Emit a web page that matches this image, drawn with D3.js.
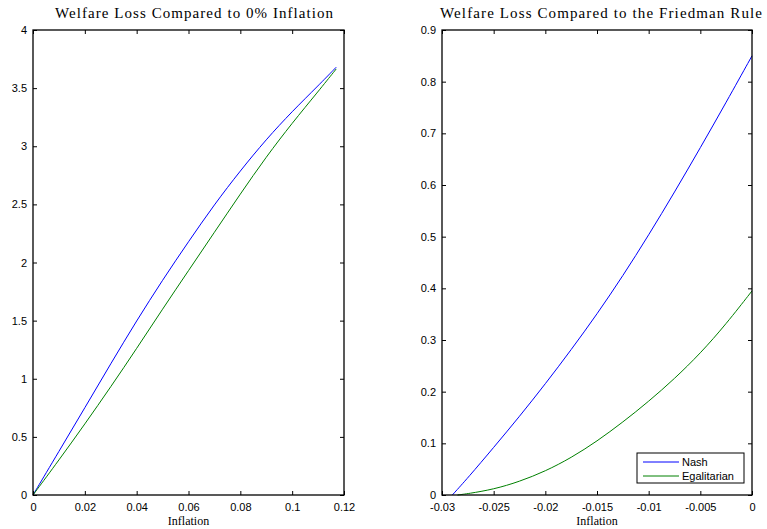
<!DOCTYPE html>
<html>
<head>
<meta charset="utf-8">
<script src="https://cdn.jsdelivr.net/npm/d3@7"></script>
<style>
body { margin: 0; background: #fff; }
svg { display: block; }
.tick text { font-family: "Liberation Sans", Arial, sans-serif; font-size: 11px; fill: #000; }
.title, .xlabel { font-family: "Liberation Serif", "Times New Roman", serif; fill: #000; }
</style>
</head>
<body>
<script>
// left panel: loss vs 0% inflation
var inflLeft = [0, 0.01, 0.02, 0.03, 0.04, 0.05, 0.06, 0.07, 0.08, 0.09, 0.1, 0.11, 0.117];
var nashLeft = [0, 0.375, 0.75, 1.13, 1.5, 1.85, 2.18, 2.5, 2.79, 3.06, 3.3, 3.52, 3.68];
var egalLeft = [0, 0.3, 0.61, 0.93, 1.26, 1.6, 1.93, 2.26, 2.59, 2.91, 3.2, 3.47, 3.665];

// right panel: loss vs Friedman rule
var inflNash = [-0.029, -0.0275, -0.025, -0.0225, -0.02, -0.0175, -0.015, -0.0125, -0.01, -0.0075, -0.005, -0.0025, 0];
var nashRight = [0, 0.033, 0.092, 0.152, 0.215, 0.281, 0.35, 0.424, 0.503, 0.586, 0.672, 0.76, 0.85];
var inflEgal = [-0.0285, -0.0275, -0.025, -0.0225, -0.02, -0.0175, -0.015, -0.0125, -0.01, -0.0075, -0.005, -0.0025, 0];
var egalRight = [0, 0.0025, 0.011, 0.026, 0.046, 0.072, 0.104, 0.141, 0.181, 0.225, 0.274, 0.331, 0.395];

var leftXTicks = [0, 0.02, 0.04, 0.06, 0.08, 0.1, 0.12];
var leftYTicks = [0, 0.5, 1, 1.5, 2, 2.5, 3, 3.5, 4];
var rightXTicks = [-0.03, -0.025, -0.02, -0.015, -0.01, -0.005, 0];
var rightYTicks = [0, 0.1, 0.2, 0.3, 0.4, 0.5, 0.6, 0.7, 0.8, 0.9];
var seriesNames = ['Nash', 'Egalitarian'];
var colors = ['#0000ff', '#008000'];

var W = 767, H = 529;
var svg = d3.select('body').append('svg').attr('width', W).attr('height', H);

function fmt(v) { return String(+v.toFixed(4)); }

function panel(opt) {
	var x = d3.scaleLinear().domain(opt.xdom).range([opt.x0, opt.x1]),
		y = d3.scaleLinear().domain(opt.ydom).range([opt.y1, opt.y0]);
	var g = svg.append('g');

	var line = d3.line().x(function(d) { return x(d[0]); }).y(function(d) { return y(d[1]); }).curve(d3.curveBasis);
	opt.series.forEach(function(s, i) {
		g.append('path').attr('d', line(d3.zip(s.x, s.y)))
			.attr('fill', 'none').attr('stroke', colors[i]).attr('stroke-width', 1);
	});

	// ticks inside the box, on all four sides
	g.append('g').attr('transform', 'translate(0,' + opt.y1 + ')')
		.call(d3.axisBottom(x).tickValues(opt.xticks).tickSizeInner(-4).tickSizeOuter(0).tickPadding(8).tickFormat(fmt));
	g.append('g').attr('transform', 'translate(' + opt.x0 + ',0)')
		.call(d3.axisLeft(y).tickValues(opt.yticks).tickSizeInner(-4).tickSizeOuter(0).tickPadding(6).tickFormat(fmt));
	g.append('g').attr('transform', 'translate(0,' + opt.y0 + ')')
		.call(d3.axisTop(x).tickValues(opt.xticks).tickSizeInner(-4).tickSizeOuter(0).tickFormat(''));
	g.append('g').attr('transform', 'translate(' + opt.x1 + ',0)')
		.call(d3.axisRight(y).tickValues(opt.yticks).tickSizeInner(-4).tickSizeOuter(0).tickFormat(''));
	g.selectAll('.domain').remove();
	g.selectAll('.tick line').attr('stroke', '#000');

	g.append('rect').attr('x', opt.x0).attr('y', opt.y0)
		.attr('width', opt.x1 - opt.x0).attr('height', opt.y1 - opt.y0)
		.attr('fill', 'none').attr('stroke', '#000').attr('stroke-width', 1.3);

	g.append('text').attr('class', 'title')
		.attr('x', opt.tx).attr('y', 18).attr('text-anchor', 'middle')
		.attr('font-size', 15).attr('textLength', opt.tlen).attr('lengthAdjust', 'spacing')
		.text(opt.title);
	g.append('text').attr('class', 'xlabel')
		.attr('x', (opt.x0 + opt.x1) / 2).attr('y', 525).attr('text-anchor', 'middle')
		.attr('font-size', 12).text('Inflation');
	return g;
}

panel({
	x0: 33, x1: 344, y0: 30, y1: 495,
	xdom: [0, 0.12], ydom: [0, 4],
	xticks: leftXTicks, yticks: leftYTicks,
	title: 'Welfare Loss Compared to 0% Inflation', tx: 194, tlen: 278,
	series: [{x: inflLeft, y: nashLeft}, {x: inflLeft, y: egalLeft}]
});

var right = panel({
	x0: 442, x1: 752, y0: 30, y1: 495,
	xdom: [-0.03, 0], ydom: [0, 0.9],
	xticks: rightXTicks, yticks: rightYTicks,
	title: 'Welfare Loss Compared to the Friedman Rule', tx: 601, tlen: 322,
	series: [{x: inflNash, y: nashRight}, {x: inflEgal, y: egalRight}]
});

// legend
var lg = right.append('g').attr('transform', 'translate(637,453)');
lg.append('rect').attr('width', 107).attr('height', 30).attr('fill', '#fff').attr('stroke', '#000').attr('stroke-width', 1);
seriesNames.forEach(function(n, i) {
	lg.append('line').attr('x1', 6).attr('x2', 42).attr('y1', 9 + i * 14).attr('y2', 9 + i * 14)
		.attr('stroke', colors[i]);
	lg.append('text').attr('x', 45).attr('y', 13 + i * 14)
		.attr('font-family', '"Liberation Sans", Arial, sans-serif').attr('font-size', 11)
		.text(n);
});
</script>
</body>
</html>
